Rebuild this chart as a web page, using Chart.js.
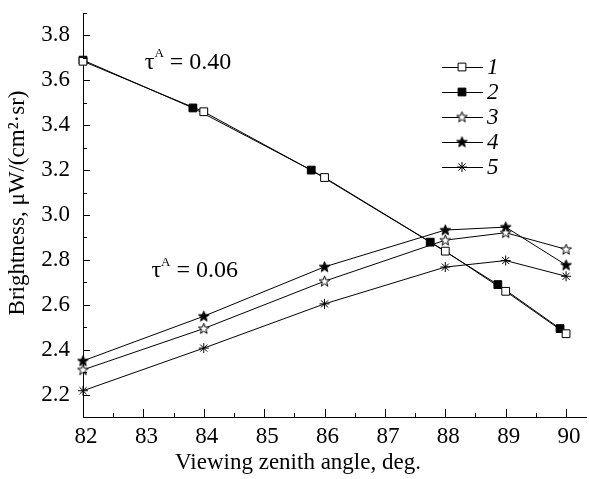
<!DOCTYPE html>
<html>
<head>
<meta charset="utf-8">
<script src="https://cdn.jsdelivr.net/npm/chart.js@4.4.1/dist/chart.umd.min.js"></script>
<style>
html,body{margin:0;padding:0;background:#fff;overflow:hidden}
#wrap{width:593px;height:479px;position:relative}
</style>
</head>
<body>
<div id="wrap"><canvas id="brightChart"></canvas></div>
<script>
// ---- data ----
const angles=[82,84,86,88,89,90];
const anglesShifted=[82,83.82,85.78,87.75,88.87,89.9];
const bright1=[3.685,3.46,3.167,2.839,2.66,2.471];
const bright2=[3.69,3.477,3.2,2.879,2.69,2.494];
const bright3=[2.31,2.494,2.705,2.888,2.921,2.847];
const bright4=[2.35,2.549,2.769,2.933,2.946,2.777];
const bright5=[2.217,2.407,2.604,2.768,2.797,2.727];
const seriesLabels=['1','2','3','4','5'];
const xTickLabels=['82','83','84','85','86','87','88','89','90'];
const yTickLabels=['2.2','2.4','2.6','2.8','3.0','3.2','3.4','3.6','3.8'];
const tauLabels=['0.40','0.06'];
const tauAt=[[83.74,3.68],[83.85,2.75]];

const SERIF='"Liberation Serif","Times New Roman",serif';

function makeStar(filled){
  const c=document.createElement('canvas');c.width=13;c.height=13;
  const g=c.getContext('2d');
  g.beginPath();
  for(let i=0;i<10;i++){
    const r=i%2===0?5.6:2.3, a=-Math.PI/2+i*Math.PI/5;
    g.lineTo(6.5+r*Math.cos(a),6.8+r*Math.sin(a));
  }
  g.closePath();
  g.fillStyle=filled?'#000':'#fff';g.fill();
  g.strokeStyle='#000';g.lineWidth=1;g.stroke();
  return c;
}
const starOpen=makeStar(false), starFilled=makeStar(true);

const pts=(xs,ys)=>xs.map((x,i)=>({x:x,y:ys[i]}));
const ds=(label,xs,ys,style,fill,radius)=>({
  label:label,data:pts(xs,ys),borderColor:'#000',borderWidth:1,
  pointStyle:style,pointRadius:radius,pointHoverRadius:radius,
  pointBackgroundColor:fill,pointBorderColor:'#000',pointBorderWidth:1,
  tension:0,clip:false,fill:false
});

// inward tick marks on both axes
const inwardTicks={id:'inwardTicks',afterDraw(chart){
  const {ctx,chartArea:a,scales:{x,y}}=chart;
  ctx.save();ctx.strokeStyle='#000';ctx.lineWidth=1;ctx.beginPath();
  for(let k=164;k<=180;k++){
    const px=Math.round(x.getPixelForValue(k/2))+0.5, len=k%2===0?8:4;
    ctx.moveTo(px,a.bottom);ctx.lineTo(px,a.bottom-len);
  }
  for(let k=21;k<=39;k++){
    const py=Math.round(y.getPixelForValue(k/10))+0.5, len=k%2===0?7:4;
    ctx.moveTo(a.left,py);ctx.lineTo(a.left+len,py);
  }
  ctx.stroke();ctx.restore();
}};

// axis titles, tau notes and the line+marker legend
const notes={id:'notes',afterDraw(chart){
  const {ctx,chartArea:a,scales:{x,y}}=chart;
  ctx.save();ctx.fillStyle='#000';
  ctx.font='23px '+SERIF;ctx.textAlign='center';ctx.textBaseline='middle';
  ctx.fillText('Viewing zenith angle, deg.',a.left+215,463);
  ctx.save();ctx.translate(18,203);ctx.rotate(-Math.PI/2);
  ctx.fillText('Brightness, μW/(cm²·sr)',0,0);ctx.restore();

  tauLabels.forEach((t,i)=>{
    const cx=x.getPixelForValue(tauAt[i][0]), cy=y.getPixelForValue(tauAt[i][1]);
    ctx.font='24px '+SERIF;
    const w1=ctx.measureText('τ').width, w3=ctx.measureText(' = '+t).width;
    ctx.font='13px '+SERIF;const w2=ctx.measureText('A').width;
    let px=cx-(w1+w2+w3)/2;
    ctx.textAlign='left';
    ctx.font='24px '+SERIF;ctx.fillText('τ',px,cy);px+=w1;
    ctx.font='13px '+SERIF;ctx.fillText('A',px,cy-9);px+=w2;
    ctx.font='24px '+SERIF;ctx.fillText(' = '+t,px,cy);
  });

  chart.data.datasets.forEach((d,i)=>{
    const ly=67+25*i;
    ctx.strokeStyle='#000';ctx.lineWidth=1;
    ctx.beginPath();ctx.moveTo(442,ly+0.5);ctx.lineTo(483,ly+0.5);ctx.stroke();
    ctx.fillStyle=d.pointBackgroundColor;ctx.strokeStyle='#000';
    Chart.helpers.drawPoint(ctx,{pointStyle:d.pointStyle,radius:d.pointRadius,rotation:0,borderWidth:1},462,ly);
    ctx.fillStyle='#000';ctx.font='italic 23px '+SERIF;ctx.textAlign='left';ctx.textBaseline='middle';
    ctx.fillText(d.label,487,ly+1);
  });
  ctx.restore();
}};

new Chart(document.getElementById('brightChart'),{
  type:'line',
  data:{datasets:[
    ds(seriesLabels[0],angles,bright1,'rect','#fff',5.5),
    ds(seriesLabels[1],anglesShifted,bright2,'rect','#000',5.5),
    ds(seriesLabels[2],angles,bright3,starOpen,'#fff',6),
    ds(seriesLabels[3],angles,bright4,starFilled,'#000',6),
    ds(seriesLabels[4],angles,bright5,'star','#000',5),
  ]},
  options:{
    responsive:true,maintainAspectRatio:false,animation:false,
    layout:{padding:{top:13,right:0,left:0,bottom:0}},
    plugins:{legend:{display:false},tooltip:{enabled:false}},
    scales:{
      x:{type:'linear',min:82,max:90.33,
        afterBuildTicks(s){s.ticks=xTickLabels.map(t=>({value:+t}));},
        afterFit(s){s.height=62;s.paddingLeft=0;s.paddingRight=0;},
        ticks:{padding:6,labelOffset:3,color:'#000',maxRotation:0,autoSkip:false,
          font:{family:SERIF,size:23},callback:v=>String(v)},
        grid:{display:true,drawOnChartArea:false,drawTicks:false},
        border:{color:'#000',width:1}},
      y:{type:'linear',min:2.1,max:3.9,
        afterBuildTicks(s){s.ticks=yTickLabels.map(t=>({value:+t}));},
        afterFit(s){s.width=83;s.paddingTop=0;s.paddingBottom=0;},
        ticks:{padding:13,color:'#000',autoSkip:false,
          font:{family:SERIF,size:23},callback:v=>v.toFixed(1)},
        grid:{display:true,drawOnChartArea:false,drawTicks:false},
        border:{color:'#000',width:1}}
    }
  },
  plugins:[inwardTicks,notes]
});
</script>
</body>
</html>
